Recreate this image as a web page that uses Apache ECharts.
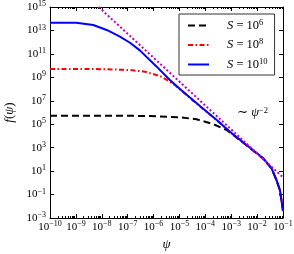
<!DOCTYPE html>
<html><head><meta charset="utf-8">
<script src="https://cdn.jsdelivr.net/npm/echarts@6/dist/echarts.min.js"></script>
<style>html,body{margin:0;padding:0;background:#fff}#c{width:294px;height:254px}</style>
</head><body><div id="c"></div>
<script>
// All values are log10 of the plotted quantities.
const xTicks = [-10,-9,-8,-7,-6,-5,-4,-3,-2,-1];
const yTicks = [-3,-1,1,3,5,7,9,11,13,15];

const logPsiS6 = [-10,-7,-6.14,-4.98,-4.34,-3.71,-3.18,-2.79,-2.6,-2.41,-1.76,-1.44,-1.25,-1.12,-1.05,-1.0];
const logFS6   = [5.73,5.72,5.70,5.59,5.42,5.02,4.51,3.85,3.52,3.20,2.06,1.21,0.21,-0.64,-1.64,-2.43];

const logPsiS8 = [-10,-8,-6.91,-6.33,-5.75,-5.37,-5.2,-4.98,-4.21,-3.56,-3.05,-2.41,-1.76,-1.44,-1.25,-1.12,-1.05,-1.0];
const logFS8   = [9.71,9.70,9.62,9.48,9.11,8.63,8.38,7.97,6.53,5.34,4.34,3.21,2.07,1.22,0.22,-0.63,-1.63,-2.42];

const logPsiS10 = [-10,-9,-8.84,-8.33,-7.81,-7.30,-6.91,-6.53,-5.88,-5.37,-4.98,-4.21,-3.56,-3.05,-2.41,-1.76,-1.44,-1.25,-1.12,-1.05,-1.0];
const logFS10   = [13.66,13.65,13.61,13.46,13.04,12.47,11.95,11.30,9.91,8.77,8.00,6.55,5.36,4.36,3.23,2.09,1.24,0.24,-0.61,-1.61,-2.4];

const logPsiAsym = [-8.12,-1.0];
const logFAsym   = [15.0,0.47];

const names = ['S6','S8','S10'];
const nameExp = {S6:'6', S8:'8', S10:'10'};

const FONT = 'Liberation Serif';
function zip(a,b){return a.map((v,i)=>[v,b[i]]);}
function sup(v){ return String(v).replace('-', '\u2212'); }
const powRich = {
  b:{fontFamily:FONT,fontSize:11,color:'#000',lineHeight:14},
  s:{fontFamily:FONT,fontSize:8,color:'#000',lineHeight:8,verticalAlign:'top'}
};
function powLabel(v){ return '{b|10}{s|' + sup(Math.round(v)) + '}'; }

const minorX = [];
for (let n=-10;n<-1;n++) for (let k=2;k<=9;k++) minorX.push(n+Math.log10(k));

const axisLine = {show:true,onZero:false,lineStyle:{color:'#000',width:1}};
const noLine = {show:false,onZero:false};
const chart = echarts.init(document.getElementById('c'), null, {renderer:'canvas'});
chart.setOption({
  animation:false,
  backgroundColor:'#fff',
  grid:{left:50,right:11,top:7,bottom:36,containLabel:false,outerBoundsMode:'none'},
  legend:{
    data:names, orient:'vertical', left:179, top:14,
    padding:[4,7,4,8], itemGap:5.5, itemWidth:21, itemHeight:14,
    borderColor:'#333', borderWidth:1, backgroundColor:'#fff',
    itemStyle:{opacity:0},
    formatter:n=>'{i|S} = 10{s|'+nameExp[n]+'}',
    textStyle:{padding:[0,0,0,13],rich:{
      i:{fontFamily:FONT,fontStyle:'italic',fontSize:12.5,color:'#000',lineHeight:15},
      s:{fontFamily:FONT,fontSize:8.5,color:'#000',lineHeight:8,verticalAlign:'top'}
    },fontFamily:FONT,fontSize:12.5,color:'#000'}
  },
  xAxis:[
    {type:'value',position:'bottom',min:-10,max:-1,interval:1,
     axisLine:axisLine,splitLine:{show:false},
     axisTick:{show:true,inside:true,length:4,lineStyle:{color:'#000'},customValues:xTicks},
     axisLabel:{margin:2,formatter:powLabel,rich:powRich,customValues:xTicks,hideOverlap:false},
     name:'ψ',nameLocation:'middle',nameGap:20,
     nameTextStyle:{fontFamily:FONT,fontStyle:'italic',fontSize:13,color:'#000'}},
    {type:'value',position:'bottom',min:-10,max:-1,
     axisLine:noLine,splitLine:{show:false},axisLabel:{show:false},
     axisTick:{show:true,inside:true,length:2,lineStyle:{color:'#000'},customValues:minorX}},
    {type:'value',position:'top',min:-10,max:-1,interval:1,
     axisLine:axisLine,splitLine:{show:false},axisLabel:{show:false},
     axisTick:{show:true,inside:true,length:4,lineStyle:{color:'#000'},customValues:xTicks}},
    {type:'value',position:'top',min:-10,max:-1,
     axisLine:noLine,splitLine:{show:false},axisLabel:{show:false},
     axisTick:{show:true,inside:true,length:2,lineStyle:{color:'#000'},customValues:minorX}}
  ],
  yAxis:[
    {type:'value',position:'left',min:-3,max:15,interval:2,
     axisLine:axisLine,splitLine:{show:false},
     axisTick:{show:true,inside:true,length:4,lineStyle:{color:'#000'}},
     axisLabel:{margin:4,formatter:powLabel,rich:powRich,showMinLabel:true,showMaxLabel:true},
     name:'{i|f}{n|(}{i|ψ}{n|)}',nameLocation:'middle',nameGap:31,nameRotate:90,
     nameTextStyle:{fontFamily:FONT,fontSize:13,color:'#000',rich:{
       i:{fontFamily:FONT,fontStyle:'italic',fontSize:13,color:'#000'},
       n:{fontFamily:FONT,fontSize:13,color:'#000'}}}},
    {type:'value',position:'right',min:-3,max:15,interval:2,
     axisLine:axisLine,splitLine:{show:false},axisLabel:{show:false},
     axisTick:{show:true,inside:true,length:4,lineStyle:{color:'#000'}}}
  ],
  graphic:[{type:'text',left:237,top:106,style:{
    text:'{n|∼ }{i|ψ}{s|\u22122}',
    rich:{n:{fontFamily:FONT,fontSize:12.5,fill:'#000',lineHeight:14},
          i:{fontFamily:FONT,fontStyle:'italic',fontSize:12.5,fill:'#000',lineHeight:14},
          s:{fontFamily:FONT,fontSize:8.5,fill:'#000',lineHeight:8,verticalAlign:'top'}}}}],
  series:[
    {name:'S6',type:'line',data:zip(logPsiS6,logFS6),showSymbol:false,symbol:'none',
     lineStyle:{color:'#000',width:2,type:[7,4]},itemStyle:{color:'#000'},z:2},
    {name:'S8',type:'line',data:zip(logPsiS8,logFS8),showSymbol:false,symbol:'none',
     lineStyle:{color:'#ff0000',width:2,type:[5,2.5,1.5,2.5]},itemStyle:{color:'#ff0000'},z:3},
    {name:'S10',type:'line',data:zip(logPsiS10,logFS10),showSymbol:false,symbol:'none',
     lineStyle:{color:'#0000ff',width:2},itemStyle:{color:'#0000ff'},z:4},
    {name:'asym',type:'line',data:zip(logPsiAsym,logFAsym),showSymbol:false,symbol:'none',
     lineStyle:{color:'#c000c0',width:2,type:[2,2.2]},itemStyle:{color:'#c000c0'},z:5}
  ]
});
</script></body></html>
